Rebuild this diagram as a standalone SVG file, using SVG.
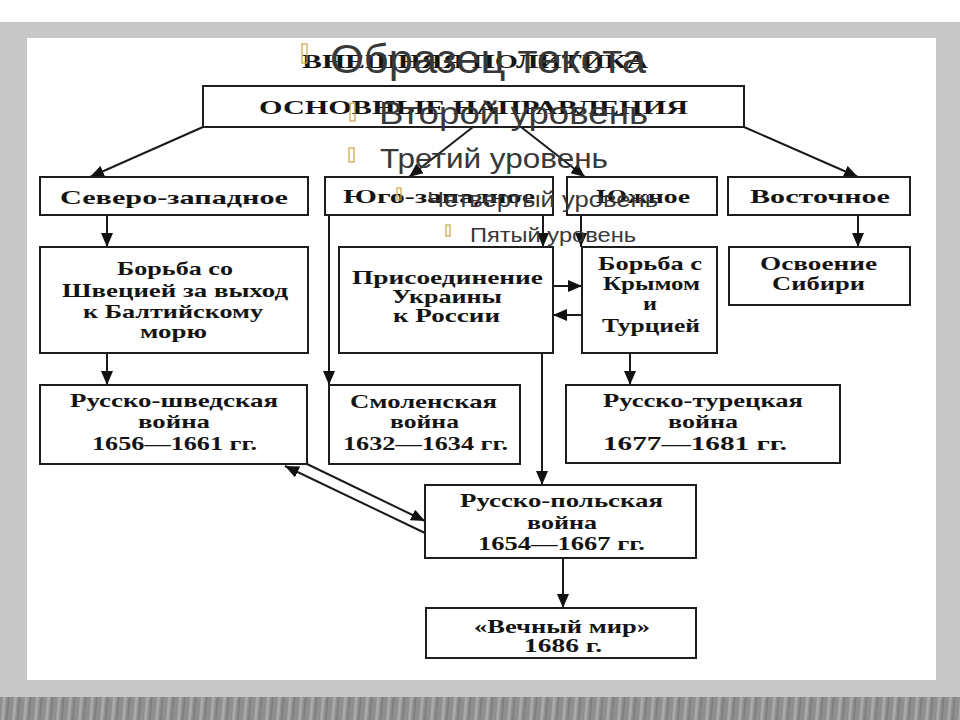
<svg xmlns="http://www.w3.org/2000/svg" width="960" height="720" viewBox="0 0 960 720">
<defs>
<style>
.box{fill:#ffffff;stroke:#1e1e1e;stroke-width:2}
.t{font-family:"Liberation Serif","DejaVu Serif",serif;font-weight:bold;font-size:19.5px;fill:#141414}
.ov{font-family:"Liberation Sans","DejaVu Sans",sans-serif;fill:#383838}
.bul{fill:none;stroke:#c9a446;stroke-width:1.2}
.c{stroke:#1a1a1a;stroke-width:2;fill:none;marker-end:url(#ah)}
</style>
<marker id="ah" viewBox="0 0 14 12" refX="14" refY="6" markerWidth="14" markerHeight="12" markerUnits="userSpaceOnUse" orient="auto">
<path d="M0,0 L14,6 L0,12 Z" fill="#111111"/>
</marker>
<pattern id="stripes" x="0" y="697" width="11" height="23" patternUnits="userSpaceOnUse">
<rect width="11" height="23" fill="#8f8f8f"/>
<path d="M3,0 L6,0 L4,23 L1,23 Z" fill="#a9a9a9"/>
<path d="M8,0 L9.5,0 L7.5,23 L6,23 Z" fill="#7c7c7c"/>
</pattern>
</defs>

<!-- frame -->
<rect x="0" y="0" width="960" height="720" fill="#ffffff"/>
<rect x="0" y="22" width="960" height="675" fill="#c8c8c8"/>
<rect x="27" y="38" width="909" height="642" fill="#ffffff"/>
<rect x="0" y="697" width="960" height="23" fill="url(#stripes)"/>

<!-- title -->
<text class="t" x="302" y="68" font-size="18" textLength="346" lengthAdjust="spacingAndGlyphs">ВНЕШНЯЯ ПОЛИТИКА</text>

<!-- connectors -->
<g id="connectors">
<line class="c" x1="203" y1="127" x2="90" y2="177"/>
<line class="c" x1="473" y1="127" x2="409" y2="177"/>
<line class="c" x1="521" y1="127" x2="585" y2="177"/>
<line class="c" x1="744" y1="127" x2="858" y2="177"/>
<line class="c" x1="107" y1="215" x2="107" y2="247"/>
<line class="c" x1="107" y1="353" x2="107" y2="385"/>
<line class="c" x1="329" y1="215" x2="329" y2="385"/>
<line class="c" x1="543" y1="215" x2="543" y2="247"/>
<line class="c" x1="553" y1="286" x2="582" y2="286"/>
<line class="c" x1="582" y1="315" x2="553" y2="315"/>
<line class="c" x1="542" y1="353" x2="542" y2="485"/>
<line class="c" x1="581" y1="215" x2="581" y2="247"/>
<line class="c" x1="630" y1="353" x2="630" y2="385"/>
<line class="c" x1="858" y1="215" x2="858" y2="247"/>
<line class="c" x1="307" y1="464" x2="425" y2="521"/>
<line class="c" x1="425" y1="533" x2="285" y2="466"/>
<line class="c" x1="563" y1="558" x2="563" y2="608"/>
</g>

<g id="n-main">
<rect class="box" x="203" y="86" width="541" height="41"/>
<text class="t" x="259" y="114" font-size="21" textLength="429" lengthAdjust="spacingAndGlyphs">ОСНОВНЫЕ НАПРАВЛЕНИЯ</text>
</g>

<g id="n-nw">
<rect class="box" x="40" y="177" width="268" height="38"/>
<text class="t" x="60" y="204" textLength="228" lengthAdjust="spacingAndGlyphs">Северо-западное</text>
</g>
<g id="n-sw">
<rect class="box" x="325" y="177" width="228" height="38"/>
<text class="t" x="343" y="203" textLength="192" lengthAdjust="spacingAndGlyphs">Юго-западное</text>
</g>
<g id="n-s">
<rect class="box" x="567" y="177" width="150" height="38"/>
<text class="t" x="596" y="203" textLength="94" lengthAdjust="spacingAndGlyphs">Южное</text>
</g>
<g id="n-e">
<rect class="box" x="728" y="177" width="182" height="38"/>
<text class="t" x="750" y="203" textLength="140" lengthAdjust="spacingAndGlyphs">Восточное</text>
</g>

<g id="n-baltic">
<rect class="box" x="40" y="247" width="268" height="106"/>
<text class="t" x="117" y="275" textLength="116" lengthAdjust="spacingAndGlyphs">Борьба со</text>
<text class="t" x="62" y="297" textLength="226" lengthAdjust="spacingAndGlyphs">Швецией за выход</text>
<text class="t" x="83" y="318" textLength="180" lengthAdjust="spacingAndGlyphs">к Балтийскому</text>
<text class="t" x="140" y="338" textLength="67" lengthAdjust="spacingAndGlyphs">морю</text>
</g>
<g id="n-ukraine">
<rect class="box" x="339" y="247" width="214" height="106"/>
<text class="t" x="352" y="284" textLength="191" lengthAdjust="spacingAndGlyphs">Присоединение</text>
<text class="t" x="392" y="303" textLength="110" lengthAdjust="spacingAndGlyphs">Украины</text>
<text class="t" x="393" y="322" textLength="107" lengthAdjust="spacingAndGlyphs">к России</text>
</g>
<g id="n-crimea">
<rect class="box" x="582" y="247" width="135" height="106"/>
<text class="t" x="598" y="270" textLength="104" lengthAdjust="spacingAndGlyphs">Борьба с</text>
<text class="t" x="603" y="290" textLength="97" lengthAdjust="spacingAndGlyphs">Крымом</text>
<text class="t" x="643" y="310" textLength="14" lengthAdjust="spacingAndGlyphs">и</text>
<text class="t" x="602" y="332" textLength="98" lengthAdjust="spacingAndGlyphs">Турцией</text>
</g>
<g id="n-siberia">
<rect class="box" x="729" y="247" width="181" height="58"/>
<text class="t" x="760" y="270" textLength="117" lengthAdjust="spacingAndGlyphs">Освоение</text>
<text class="t" x="772" y="290" textLength="93" lengthAdjust="spacingAndGlyphs">Сибири</text>
</g>

<g id="n-swedish">
<rect class="box" x="40" y="385" width="267" height="79"/>
<text class="t" x="70" y="407" textLength="208" lengthAdjust="spacingAndGlyphs">Русско-шведская</text>
<text class="t" x="138" y="428" textLength="72" lengthAdjust="spacingAndGlyphs">война</text>
<text class="t" x="92" y="450" textLength="165" lengthAdjust="spacingAndGlyphs">1656—1661 гг.</text>
</g>
<g id="n-smolensk">
<rect class="box" x="329" y="385" width="191" height="79"/>
<text class="t" x="350" y="408" textLength="147" lengthAdjust="spacingAndGlyphs">Смоленская</text>
<text class="t" x="390" y="428" textLength="69" lengthAdjust="spacingAndGlyphs">война</text>
<text class="t" x="343" y="450" textLength="165" lengthAdjust="spacingAndGlyphs">1632—1634 гг.</text>
</g>
<g id="n-turkish">
<rect class="box" x="566" y="385" width="274" height="78"/>
<text class="t" x="603" y="407" textLength="200" lengthAdjust="spacingAndGlyphs">Русско-турецкая</text>
<text class="t" x="668" y="428" textLength="70" lengthAdjust="spacingAndGlyphs">война</text>
<text class="t" x="603" y="450" textLength="184" lengthAdjust="spacingAndGlyphs">1677—1681 гг.</text>
</g>

<g id="n-polish">
<rect class="box" x="425" y="485" width="271" height="73"/>
<text class="t" x="460" y="507" textLength="203" lengthAdjust="spacingAndGlyphs">Русско-польская</text>
<text class="t" x="527" y="529" textLength="70" lengthAdjust="spacingAndGlyphs">война</text>
<text class="t" x="478" y="550" textLength="167" lengthAdjust="spacingAndGlyphs">1654—1667 гг.</text>
</g>
<g id="n-peace">
<rect class="box" x="426" y="608" width="270" height="50"/>
<text class="t" x="474" y="633" textLength="176" lengthAdjust="spacingAndGlyphs">«Вечный мир»</text>
<text class="t" x="524" y="652" textLength="78" lengthAdjust="spacingAndGlyphs">1686 г.</text>
</g>

<!-- placeholder overlay -->
<g id="overlay">
<rect class="bul" x="302" y="44" width="5" height="19"/>
<text class="ov" x="330" y="73" font-size="41" textLength="316" lengthAdjust="spacingAndGlyphs">Образец текста</text>
<rect class="bul" x="350" y="103" width="5" height="18"/>
<text class="ov" x="379" y="124" font-size="31" textLength="269" lengthAdjust="spacingAndGlyphs">Второй уровень</text>
<rect class="bul" x="349" y="148" width="5" height="14"/>
<text class="ov" x="380" y="168" font-size="28" textLength="228" lengthAdjust="spacingAndGlyphs">Третий уровень</text>
<rect class="bul" x="397" y="188" width="4" height="12"/>
<text class="ov" x="427" y="207" font-size="22" textLength="231" lengthAdjust="spacingAndGlyphs">Четвертый уровень</text>
<rect class="bul" x="446" y="225" width="4" height="11"/>
<text class="ov" x="470" y="242" font-size="20" textLength="166" lengthAdjust="spacingAndGlyphs">Пятый уровень</text>
</g>
</svg>
